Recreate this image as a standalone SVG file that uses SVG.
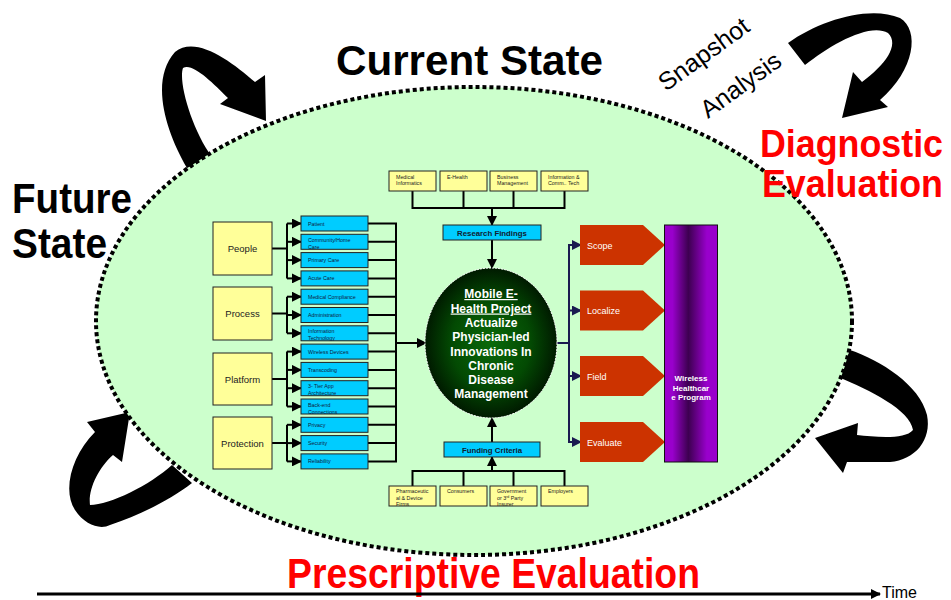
<svg xmlns="http://www.w3.org/2000/svg" width="951" height="600" viewBox="0 0 951 600">
<style>
text{font-family:"Liberation Sans",Arial,sans-serif}
.big{font-weight:bold;font-size:42px;fill:#000}
.red{font-weight:bold;font-size:42px;fill:#FF0000}
.red2{font-weight:bold;font-size:36px;fill:#FF0000}
.yb{fill:#FFFF99;stroke:#222;stroke-width:1}
.bb{fill:#00CCFF;stroke:#222;stroke-width:1}
.yl{font-size:9.5px;fill:#222;text-anchor:middle}
.bl{font-size:5.3px;fill:#102040}
.tl{font-size:5.3px;fill:#222}
.hdr{font-size:7.8px;font-weight:bold;fill:#102030;text-anchor:middle}
.pl{font-size:9px;fill:#fff}
.ln{stroke:#000;stroke-width:2;fill:none}
.nv{stroke:#1a1a50;stroke-width:2;fill:none}
.ct{font-size:12px;font-weight:bold;fill:#fff;text-anchor:middle}
</style>
<defs>
<marker id="ah" markerWidth="10" markerHeight="10" refX="9" refY="5" orient="auto" markerUnits="userSpaceOnUse"><path d="M0,0 L10,5 L0,10 Z" fill="#000"/></marker>
<marker id="an" markerWidth="10" markerHeight="10" refX="9" refY="5" orient="auto" markerUnits="userSpaceOnUse"><path d="M0,0 L10,5 L0,10 Z" fill="#1a1a50"/></marker>
<radialGradient id="gc" cx="50%" cy="50%" r="50%"><stop offset="0" stop-color="#0a6a0a"/><stop offset="0.6" stop-color="#034a03"/><stop offset="1" stop-color="#001a00"/></radialGradient>
<linearGradient id="gp" x1="0" y1="0" x2="1" y2="0"><stop offset="0" stop-color="#9900CC"/><stop offset="0.15" stop-color="#9900CC"/><stop offset="0.45" stop-color="#3d0050"/><stop offset="0.8" stop-color="#9900CC"/><stop offset="1" stop-color="#9900CC"/></linearGradient>
</defs>
<rect width="951" height="600" fill="#fff"/>

<g id="loop-arrows" fill="#000">
<path d="M187,168 C165,130 150,80 175,52 C195,35 230,60 255,82 L265,75 L266,121 L220,104 L228,98 C212,82 192,62 183,68 C178,82 192,130 212,157 Z"/>
<path d="M788,43 C820,20 870,5 900,18 C920,30 915,70 880,100 L888,107 L842,118 L853,72 L862,82 C885,65 900,45 888,33 C870,22 830,45 805,65 Z"/>
<path d="M172,465 C150,485 110,505 90,505 C88,490 98,468 113,455 L122,462 L130,412 L87,422 L95,432 C72,455 62,490 75,510 C85,525 100,530 110,525 C140,515 170,500 192,483 Z"/>
<path d="M850,350 C880,360 920,385 927,415 C932,440 915,460 890,462 L847,462 L843,473 L815,438 L858,423 L857,435 C875,437 905,440 913,430 C910,410 870,390 838,377 Z"/>
</g>

<ellipse id="state-ellipse" cx="474" cy="321" rx="378" ry="234" fill="#CCFFCC" stroke="#000" stroke-width="4" stroke-dasharray="4 3"/>

<g id="titles">
<text class="big" x="336" y="75" textLength="267" lengthAdjust="spacingAndGlyphs">Current State</text>
<text class="big" x="12" y="213" textLength="120" lengthAdjust="spacingAndGlyphs">Future</text>
<text class="big" x="12" y="258" textLength="95" lengthAdjust="spacingAndGlyphs">State</text>
<text class="red2" x="760" y="157" textLength="183" lengthAdjust="spacingAndGlyphs" transform="translate(0,-15.7) scale(1,1.1)">Diagnostic</text>
<text class="red2" x="762" y="197" textLength="181" lengthAdjust="spacingAndGlyphs" transform="translate(0,-19.7) scale(1,1.1)">Evaluation</text>
<text class="red" x="287" y="588" textLength="413" lengthAdjust="spacingAndGlyphs">Prescriptive Evaluation</text>
<text x="0" y="0" font-size="25" fill="#000" transform="translate(666,92) rotate(-36)">Snapshot</text>
<text x="0" y="0" font-size="25" fill="#000" transform="translate(708,119) rotate(-36)">Analysis</text>
</g>

<g id="time-axis">
<line x1="37" y1="594" x2="880" y2="594" stroke="#000" stroke-width="3" marker-end="url(#ah)"/>
<text x="882" y="598" font-size="16" fill="#000">Time</text>
</g>

<g id="connectors">
<path class="ln" d="M272,248.5 H287 M287,223.5 V278.4 M272,313.5 H287 M287,296.7 V333.3 M272,379 H287 M287,351.6 V406.5 M272,443 H287 M287,424.8 V461.4"/>
<g class="ln" marker-end="url(#ah)">
<line x1="287" y1="223.5" x2="301" y2="223.5"/><line x1="287" y1="241.8" x2="301" y2="241.8"/><line x1="287" y1="260.1" x2="301" y2="260.1"/><line x1="287" y1="278.4" x2="301" y2="278.4"/>
<line x1="287" y1="296.7" x2="301" y2="296.7"/><line x1="287" y1="315" x2="301" y2="315"/><line x1="287" y1="333.3" x2="301" y2="333.3"/>
<line x1="287" y1="351.6" x2="301" y2="351.6"/><line x1="287" y1="369.9" x2="301" y2="369.9"/><line x1="287" y1="388.2" x2="301" y2="388.2"/><line x1="287" y1="406.5" x2="301" y2="406.5"/>
<line x1="287" y1="424.8" x2="301" y2="424.8"/><line x1="287" y1="443.1" x2="301" y2="443.1"/><line x1="287" y1="461.4" x2="301" y2="461.4"/>
</g>
<path class="ln" d="M368,223.5 H396 M368,241.8 H396 M368,260.1 H396 M368,278.4 H396 M368,296.7 H396 M368,315 H396 M368,333.3 H396 M368,351.6 H396 M368,369.9 H396 M368,388.2 H396 M368,406.5 H396 M368,424.8 H396 M368,443.1 H396 M368,461.4 H396 M396,222.5 V462.4"/>
<line class="ln" x1="396" y1="343" x2="426" y2="343" marker-end="url(#ah)"/>
<path class="ln" d="M412.5,191 V208 M463.5,191 V208 M513.5,191 V208 M564.5,191 V208 M411.5,208 H565.5"/>
<line class="ln" x1="492" y1="208" x2="492" y2="225" marker-end="url(#ah)"/>
<line class="ln" x1="492" y1="240" x2="492" y2="268" marker-end="url(#ah)"/>
<path class="ln" d="M412.5,486 V471 M463.5,486 V471 M513.5,486 V471 M564.5,486 V471 M411.5,471 H565.5"/>
<line class="ln" x1="492" y1="471" x2="492" y2="457" marker-end="url(#ah)"/>
<line class="ln" x1="492" y1="442" x2="492" y2="418" marker-end="url(#ah)"/>
<path class="nv" d="M557,343 H569 M569,244 V443"/>
<g class="nv" marker-end="url(#an)">
<line x1="569" y1="245" x2="581" y2="245"/><line x1="569" y1="310.5" x2="581" y2="310.5"/><line x1="569" y1="376" x2="581" y2="376"/><line x1="569" y1="442" x2="581" y2="442"/>
</g>
</g>

<g id="left-categories">
<g id="people"><rect class="yb" x="213" y="222" width="59" height="53"/><text class="yl" x="242.5" y="252">People</text></g>
<g id="process"><rect class="yb" x="213" y="287" width="59" height="53"/><text class="yl" x="242.5" y="317">Process</text></g>
<g id="platform"><rect class="yb" x="213" y="353" width="59" height="52"/><text class="yl" x="242.5" y="382.5">Platform</text></g>
<g id="protection"><rect class="yb" x="213" y="417" width="59" height="52"/><text class="yl" x="242.5" y="446.5">Protection</text></g>
</g>

<g id="left-items">
<g id="patient"><rect class="bb" x="301" y="216" width="67" height="15"/><text class="bl" x="308" y="225.5">Patient</text></g>
<g id="community"><rect class="bb" x="301" y="234.3" width="67" height="15"/><text class="bl" x="308" y="241.8">Community/Home</text><text class="bl" x="308" y="248.8">Care</text></g>
<g id="primary"><rect class="bb" x="301" y="252.6" width="67" height="15"/><text class="bl" x="308" y="262.1">Primary Care</text></g>
<g id="acute"><rect class="bb" x="301" y="270.9" width="67" height="15"/><text class="bl" x="308" y="280.4">Acute Care</text></g>
<g id="compliance"><rect class="bb" x="301" y="289.2" width="67" height="15"/><text class="bl" x="308" y="298.7">Medical Compliance</text></g>
<g id="administration"><rect class="bb" x="301" y="307.5" width="67" height="15"/><text class="bl" x="308" y="317">Administration</text></g>
<g id="infotech"><rect class="bb" x="301" y="325.8" width="67" height="15"/><text class="bl" x="308" y="333.3">Information</text><text class="bl" x="308" y="340.3">Technology</text></g>
<g id="wireless"><rect class="bb" x="301" y="344.1" width="67" height="15"/><text class="bl" x="308" y="353.6">Wireless Devices</text></g>
<g id="transcoding"><rect class="bb" x="301" y="362.4" width="67" height="15"/><text class="bl" x="308" y="371.9">Transcoding</text></g>
<g id="tier"><rect class="bb" x="301" y="380.7" width="67" height="15"/><text class="bl" x="308" y="388.2">3- Tier App</text><text class="bl" x="308" y="395.2">Architecture</text></g>
<g id="backend"><rect class="bb" x="301" y="399" width="67" height="15"/><text class="bl" x="308" y="406.5">Back-end</text><text class="bl" x="308" y="413.5">Connections</text></g>
<g id="privacy"><rect class="bb" x="301" y="417.3" width="67" height="15"/><text class="bl" x="308" y="426.8">Privacy</text></g>
<g id="security"><rect class="bb" x="301" y="435.6" width="67" height="15"/><text class="bl" x="308" y="445.1">Security</text></g>
<g id="reliability"><rect class="bb" x="301" y="453.9" width="67" height="15"/><text class="bl" x="308" y="463.4">Reliability</text></g>
</g>

<g id="top-sources">
<g id="med-informatics"><rect class="yb" x="389" y="171" width="47" height="20"/><text class="tl" x="396" y="178.5">Medical</text><text class="tl" x="396" y="185">Informatics</text></g>
<g id="ehealth"><rect class="yb" x="440" y="171" width="47" height="20"/><text class="tl" x="447" y="178.5">E-Health</text></g>
<g id="business"><rect class="yb" x="490" y="171" width="47" height="20"/><text class="tl" x="497" y="178.5">Business</text><text class="tl" x="497" y="185">Management</text></g>
<g id="ict"><rect class="yb" x="541" y="171" width="47" height="20"/><text class="tl" x="548" y="178.5">Information &amp;</text><text class="tl" x="548" y="185">Comm.. Tech</text></g>
</g>
<g id="research"><rect class="bb" x="443" y="225" width="98" height="15"/><text class="hdr" x="492" y="235.5">Research Findings</text></g>
<g id="funding"><rect class="bb" x="444" y="442" width="96" height="15"/><text class="hdr" x="492" y="452.5">Funding Criteria</text></g>

<g id="bottom-sources">
<g id="pharma"><rect class="yb" x="389" y="486" width="47" height="20"/><text class="tl" x="396" y="493">Pharmaceutic</text><text class="tl" x="396" y="499.5">al &amp; Device</text><text class="tl" x="396" y="506">Firms</text></g>
<g id="consumers"><rect class="yb" x="440" y="486" width="47" height="20"/><text class="tl" x="447" y="493">Consumers</text></g>
<g id="government"><rect class="yb" x="490" y="486" width="47" height="20"/><text class="tl" x="497" y="493">Government</text><text class="tl" x="497" y="499.5">or 3<tspan font-size="3.5" dy="-1.5">rd</tspan><tspan dy="1.5"> Party</tspan></text><text class="tl" x="497" y="506">Insurer</text></g>
<g id="employers"><rect class="yb" x="541" y="486" width="47" height="20"/><text class="tl" x="548" y="493">Employers</text></g>
</g>

<g id="project">
<ellipse cx="491" cy="343" rx="66" ry="75" fill="url(#gc)" stroke="#fff" stroke-width="1" stroke-dasharray="2 1"/>
<text class="ct" x="491" y="298" text-decoration="underline">Mobile E-</text>
<text class="ct" x="491" y="312.5" text-decoration="underline">Health Project</text>
<text class="ct" x="491" y="327">Actualize</text>
<text class="ct" x="491" y="341">Physician-led</text>
<text class="ct" x="491" y="355.5">Innovations In</text>
<text class="ct" x="491" y="370">Chronic</text>
<text class="ct" x="491" y="384">Disease</text>
<text class="ct" x="491" y="398">Management</text>
</g>

<g id="phases">
<g id="scope"><path d="M580,225 H643 L665,245 L643,265 H580 Z" fill="#CC3300"/><text class="pl" x="587" y="248.5">Scope</text></g>
<g id="localize"><path d="M580,290.5 H643 L665,310.5 L643,330.5 H580 Z" fill="#CC3300"/><text class="pl" x="587" y="314">Localize</text></g>
<g id="field"><path d="M580,356 H643 L665,376 L643,396 H580 Z" fill="#CC3300"/><text class="pl" x="587" y="379.5">Field</text></g>
<g id="evaluate"><path d="M580,422 H643 L665,442 L643,462 H580 Z" fill="#CC3300"/><text class="pl" x="587" y="445.5">Evaluate</text></g>
</g>

<g id="program">
<rect x="664.5" y="225" width="53" height="237" fill="url(#gp)" stroke="#111" stroke-width="1"/>
<text x="691" y="381" font-size="8" font-weight="bold" fill="#fff" text-anchor="middle">Wireless</text>
<text x="691" y="390.5" font-size="8" font-weight="bold" fill="#fff" text-anchor="middle">Healthcar</text>
<text x="691" y="400" font-size="8" font-weight="bold" fill="#fff" text-anchor="middle">e Program</text>
</g>
</svg>
